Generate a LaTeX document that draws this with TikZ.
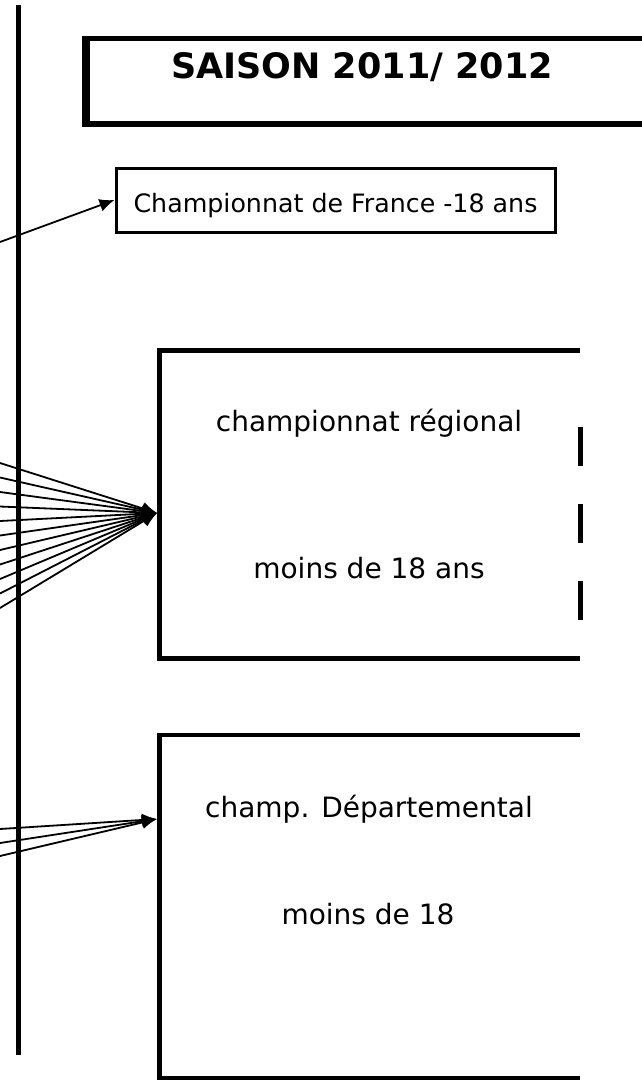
\documentclass[tikz,border=0pt]{standalone}
\usepackage{fontspec}
\setmainfont{DejaVu Sans}
\usetikzlibrary{arrows.meta}
\begin{document}
\begin{tikzpicture}[x=1pt,y=-1pt,
  conn/.style={line width=1.8pt,-{Latex[length=15pt,width=13pt]}},
  lbl/.style={inner sep=0pt,anchor=base,font=\fontsize{28}{30}\selectfont},
  boxline/.style={line width=4.5pt},
  dashseg/.style={line width=5pt,dash pattern=on 39pt off 38pt}]
\useasboundingbox (0,0) rectangle (642,1080);
\fill[white] (0,0) rectangle (642,1080);
% vertical bar
\draw[line width=5pt] (18,5) -- (18,1055);
% title box
\draw[line width=5pt] (650,38.5) -- (86,38.5);
\draw[line width=6pt] (86,124) -- (650,124);
\draw[line width=8pt] (86,36) -- (86,127);
\node[inner sep=0pt,anchor=base,font=\bfseries\fontsize{35}{38}\selectfont] (title) at (362,78) {SAISON 2011/ 2012};
% France box
\node[draw,line width=3pt,minimum width=439pt,minimum height=64pt,inner sep=0pt] (france) at (335.5,200) {};
\node[inner sep=0pt,anchor=base,font=\fontsize{25.3}{28}\selectfont] (francet) at (335.5,212) {Championnat de France -18 ans};
% regional box
\draw[boxline] (580,350.5) -- (159.5,350.5) -- (159.5,658.5) -- (580,658.5);
\draw[dashseg] (580,427) -- (580,620);
\node[lbl] (reg1) at (369,431) {championnat régional};
\node[lbl] (reg2) at (369,578) {moins de 18 ans};
% departemental box
\draw[boxline] (580,735) -- (159.5,735) -- (159.5,1078.5) -- (580,1078.5);
\node[lbl] (dep1) at (369,817) {champ. Départemental};
\node[lbl] (dep2) at (368,924) {moins de 18};
% arrow targets
\coordinate (franceIn) at (france.west);
\coordinate (regIn) at (157,513);
\coordinate (depIn) at (157,819);
% sources
\coordinate (s0) at (0,242);
\draw[conn] (s0) -- (franceIn);
\foreach \i in {0,...,10}{
  \coordinate (r\i) at (0,463+14.5*\i);
  \draw[conn] (r\i) -- (regIn);
}
\coordinate (d1) at (0,829);
\coordinate (d2) at (0,843);
\coordinate (d3) at (0,856);
\foreach \d in {d1,d2,d3}{\draw[conn] (\d) -- (depIn);}
\end{tikzpicture}
\end{document}
